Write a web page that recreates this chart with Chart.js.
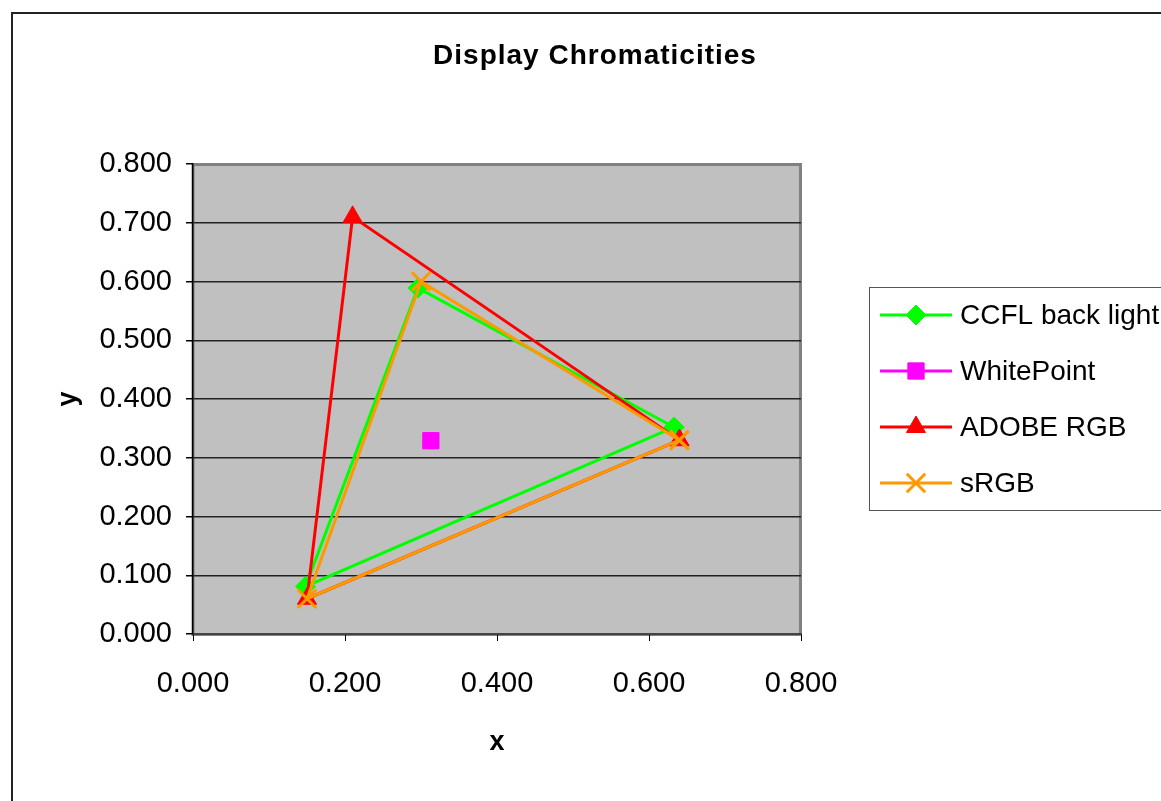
<!DOCTYPE html>
<html>
<head>
<meta charset="utf-8">
<title>Display Chromaticities</title>
<script src="https://cdn.jsdelivr.net/npm/chart.js@4.4.0/dist/chart.umd.min.js"></script>
<style>
  html, body { margin: 0; padding: 0; background: #fff; overflow: hidden; }
  #wrap { position: relative; width: 1188px; height: 801px; }
</style>
</head>
<body>
<div id="wrap"><canvas id="chart"></canvas></div>
<script>
// ── Data ─────────────────────────────────────────────────────────────────────
// each gamut is closed: R -> G -> B -> R
const ccflX  = [0.633, 0.296, 0.148, 0.633];
const ccflY  = [0.352, 0.589, 0.081, 0.352];
const whiteX = [0.313];
const whiteY = [0.329];
const adobeX = [0.640, 0.210, 0.150, 0.640];
const adobeY = [0.330, 0.710, 0.060, 0.330];
const srgbX  = [0.640, 0.300, 0.150, 0.640];
const srgbY  = [0.330, 0.600, 0.060, 0.330];

const seriesNames = ['CCFL back light', 'WhitePoint', 'ADOBE RGB', 'sRGB'];
const xTicks = [0, 0.2, 0.4, 0.6, 0.8];
const yTicks = [0, 0.1, 0.2, 0.3, 0.4, 0.5, 0.6, 0.7, 0.8];
const chartTitle = 'Display Chromaticities';

const FONT = '"Liberation Sans", Arial, sans-serif';
const pts = (xs, ys) => xs.map((x, i) => ({ x, y: ys[i] }));

const styles = [
  { color: '#00ff00', point: 'rectRot',  radius: 10, bw: 1 },
  { color: '#ff00ff', point: 'rect',     radius: 11.5, bw: 1 },
  { color: '#ff0000', point: 'triangle', radius: 11, bw: 1 },
  { color: '#ff9900', point: 'crossRot', radius: 13, bw: 3 },
];
const series = [pts(ccflX, ccflY), pts(whiteX, whiteY), pts(adobeX, adobeY), pts(srgbX, srgbY)];

// ── Frame, title and legend box ─────────────────────────────────────────────
const frame = {
  id: 'frame',
  beforeDraw(chart) {
    const { ctx, chartArea: a } = chart;
    ctx.save();
    ctx.fillStyle = '#fff';
    ctx.fillRect(0, 0, chart.width, chart.height);
    ctx.strokeStyle = '#222';
    ctx.lineWidth = 2;
    ctx.strokeRect(12, 13, 1200, 900);

    // title, centred on the whole chart object
    ctx.fillStyle = '#000';
    ctx.font = 'bold 28px ' + FONT;
    ctx.letterSpacing = '1px';
    ctx.textAlign = 'center';
    ctx.textBaseline = 'middle';
    ctx.fillText(chartTitle, 595, 56);
    ctx.letterSpacing = '0px';

    ctx.fillStyle = '#c0c0c0';
    ctx.fillRect(a.left, a.top, a.right - a.left, a.bottom - a.top);
    ctx.strokeStyle = '#808080';
    ctx.lineWidth = 3;
    ctx.strokeRect(a.left, a.top + 0.5, a.right - a.left - 0.5, a.bottom - a.top);
    ctx.restore();
  },
  afterDraw(chart) {
    const { ctx } = chart;
    ctx.save();
    ctx.strokeStyle = '#555';
    ctx.lineWidth = 1;
    ctx.strokeRect(869.5, 287.5, 400, 223);
    seriesNames.forEach((name, i) => {
      const s = styles[i];
      const y = 315 + i * 56;
      ctx.strokeStyle = s.color;
      ctx.lineWidth = 3;
      ctx.beginPath();
      ctx.moveTo(880, y);
      ctx.lineTo(952, y);
      ctx.stroke();
      ctx.fillStyle = s.color;
      ctx.lineWidth = s.bw;
      Chart.helpers.drawPoint(ctx, { pointStyle: s.point, radius: s.radius, borderWidth: s.bw, rotation: 0 }, 916, y);
      ctx.fillStyle = '#000';
      ctx.font = '28px ' + FONT;
      ctx.textAlign = 'left';
      ctx.textBaseline = 'middle';
      ctx.fillText(name, 960, y + 1);
    });
    ctx.restore();
  }
};

// ── Chart ────────────────────────────────────────────────────────────────────
new Chart(document.getElementById('chart'), {
  type: 'scatter',
  data: {
    datasets: series.map((data, i) => ({
      label: seriesNames[i],
      data,
      showLine: i !== 1,
      borderColor: styles[i].color,
      backgroundColor: styles[i].color,
      borderWidth: 3,
      pointStyle: styles[i].point,
      pointRadius: styles[i].radius,
      pointHoverRadius: styles[i].radius,
      pointBorderWidth: styles[i].bw,
      order: 4 - i,
      clip: false,
    }))
  },
  plugins: [frame],
  options: {
    responsive: true,
    maintainAspectRatio: false,
    animation: false,
    layout: { padding: { left: 0, right: 387, top: 164, bottom: 0 } },
    plugins: {
      legend: { display: false },
      tooltip: { enabled: false },
      title: { display: false }
    },
    scales: {
      x: {
        type: 'linear',
        min: 0, max: 0.8,
        afterFit: s => { s.height = 167; },
        afterBuildTicks: s => { s.ticks = xTicks.map(v => ({ value: v })); },
        ticks: {
          color: '#000', padding: 26,
          font: { family: FONT, size: 29 },
          callback: v => v.toFixed(3)
        },
        grid: { drawOnChartArea: false, drawTicks: true, tickLength: 7, tickColor: '#000' },
        border: { display: true, color: '#444', width: 2 },
        title: {
          display: true, text: 'x', color: '#000',
          font: { family: FONT, size: 27, weight: 'bold', lineHeight: 1.2 },
          padding: { top: 0, bottom: 42 }
        }
      },
      y: {
        type: 'linear',
        min: 0, max: 0.8,
        afterFit: s => { s.width = 193; },
        afterBuildTicks: s => { s.ticks = yTicks.map(v => ({ value: v })); },
        ticks: {
          color: '#000', padding: 14,
          font: { family: FONT, size: 29 },
          callback: v => v.toFixed(3)
        },
        grid: {
          color: c => (c.tick && (c.tick.value >= 0.79 || c.tick.value < 0.01)) ? 'rgba(0,0,0,0)' : '#222',
          lineWidth: 1.5,
          drawTicks: true, tickLength: 7, tickColor: '#000'
        },
        border: { display: true, color: '#000', width: 1.5 },
        title: {
          display: true, text: 'y', color: '#000',
          font: { family: FONT, size: 27, weight: 'bold', lineHeight: 1.2 },
          padding: { top: 52, bottom: 0 }
        }
      }
    }
  }
});
</script>
</body>
</html>
